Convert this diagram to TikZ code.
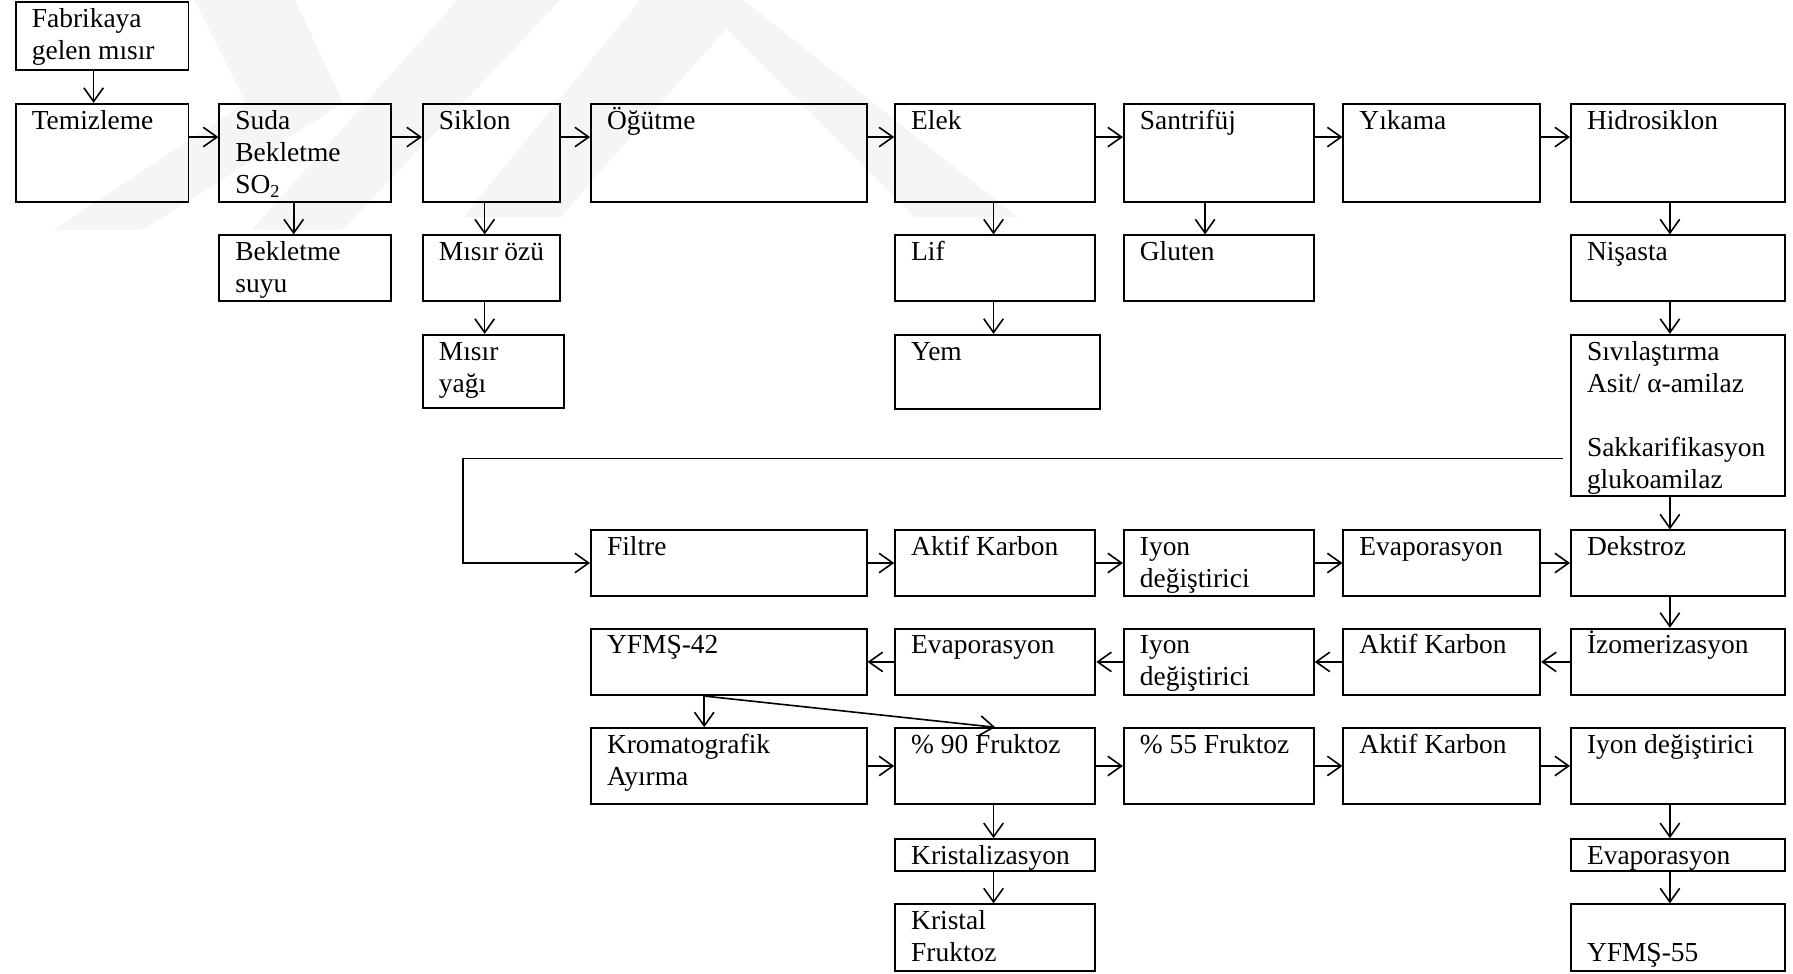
\documentclass[tikz,border=0pt]{standalone}
\usepackage{fontspec}
\setmainfont{Liberation Serif}
\usepackage{tikz}
\usetikzlibrary{arrows.meta}

\begin{document}
\begin{tikzpicture}[
    x=0.5pt,
    y=-0.5pt,
    font=\fontsize{12}{14}\selectfont,
    kutu/.style 2 args={
        draw,
        line width=0.85pt,
        anchor=north west,
        align=flush left,
        inner xsep=7pt,
        inner ysep=0pt,
        text width=#1*0.5pt-14pt,
        minimum width=#1*0.5pt,
        text height=11pt,
        text depth=#2*0.5pt-11pt
    },
    seta/.style={
        -{Straight Barb[length=6pt,width=8.5pt]},
        line width=0.7pt
    },
    filigran/.style={
        fill=black!4,
        draw=none
    }
]

\useasboundingbox (0,0) rectangle (1568,851);

% filigran
\fill[filigran] (170,0) -- (258,0) -- (300,90) -- (125,201) -- (47,201) -- (215,90) -- cycle;
\fill[filigran] (400,0) -- (490,0) -- (300,201) -- (220,201) -- cycle;
\fill[filigran, even odd rule] (405,190) -- (560,0) -- (650,0) -- (890,190) -- cycle
    (490,190) -- (635,25) -- (800,190) -- cycle;

% ust sira
\node[kutu={151}{59}] (fab) at (13,1) {Fabrikaya\\gelen~mısır};
\node[kutu={151}{86}] (temiz) at (13,90) {Temizleme};
\node[kutu={150}{86}] (suda) at (191,90) {Suda\\Bekletme\\SO\textsubscript{2}};
\node[kutu={120}{86}] (siklon) at (369,90) {Siklon};
\node[kutu={241}{86}] (ogut) at (516,90) {Öğütme};
\node[kutu={175}{86}] (elek) at (782,90) {Elek};
\node[kutu={166}{86}] (santri) at (982,90) {Santrifüj};
\node[kutu={172}{86}] (yika) at (1174,90) {Yıkama};
\node[kutu={187}{86}] (hidro) at (1373,90) {Hidrosiklon};

\node[kutu={150}{57}] (bsuyu) at (191,205) {Bekletme\\suyu};
\node[kutu={120}{57}] (ozu) at (369,205) {Mısır~özü};
\node[kutu={175}{57}] (lif) at (782,205) {Lif};
\node[kutu={166}{57}] (gluten) at (982,205) {Gluten};
\node[kutu={187}{57}] (nisasta) at (1373,205) {Nişasta};

\node[kutu={123}{64}] (yagi) at (369,292) {Mısır\\yağı};
\node[kutu={179}{65}] (yem) at (782,292) {Yem};
\node[kutu={187}{141}] (sivi) at (1373,292)
{
    Sıvılaştırma\\
    Asit/~α-amilaz\\[14pt]
    Sakkarifikasyon\\
    glukoamilaz
};

% alt siralar
\node[kutu={241}{57}] (filtre) at (516,463) {Filtre};
\node[kutu={175}{57}] (aktif1) at (782,463) {Aktif~Karbon};
\node[kutu={166}{57}] (iyon1) at (982,463) {Iyon\\değiştirici};
\node[kutu={172}{57}] (evap1) at (1174,463) {Evaporasyon};
\node[kutu={187}{57}] (dekstroz) at (1373,463) {Dekstroz};

\node[kutu={241}{58}] (yfms42) at (516,549) {YFMŞ-42};
\node[kutu={175}{58}] (evap2) at (782,549) {Evaporasyon};
\node[kutu={166}{58}] (iyon2) at (982,549) {Iyon\\değiştirici};
\node[kutu={172}{58}] (aktif2) at (1174,549) {Aktif~Karbon};
\node[kutu={187}{58}] (izo) at (1373,549) {İzomerizasyon};

\node[kutu={241}{66}] (krom) at (516,636) {Kromatografik\\Ayırma};
\node[kutu={175}{66}] (f90) at (782,636) {\%~90~Fruktoz};
\node[kutu={166}{66}] (f55) at (982,636) {\%~55~Fruktoz};
\node[kutu={172}{66}] (aktif3) at (1174,636) {Aktif~Karbon};
\node[kutu={187}{66}] (iyon3) at (1373,636) {Iyon~değiştirici};

\node[kutu={175}{28}] (krist) at (782,733) {Kristalizasyon};
\node[kutu={187}{28}] (evap3) at (1373,733) {Evaporasyon};

\node[kutu={175}{58}] (kfruk) at (782,790) {Kristal\\Fruktoz};
\node[kutu={187}{58}] (yfms55) at (1373,790) {\mbox{}\\YFMŞ-55};

\coordinate (kose) at (405,401);

% oklar
\draw[seta] ([xshift=-3.75pt]fab.south) -- ([xshift=-3.75pt]fab.south |- temiz.north);

\draw[seta] ([yshift=7pt]temiz.east) -- ([yshift=7pt]suda.west);
\draw[seta] ([yshift=7pt]suda.east) -- ([yshift=7pt]siklon.west);
\draw[seta] ([yshift=7pt]siklon.east) -- ([yshift=7pt]ogut.west);
\draw[seta] ([yshift=7pt]ogut.east) -- ([yshift=7pt]elek.west);
\draw[seta] ([yshift=7pt]elek.east) -- ([yshift=7pt]santri.west);
\draw[seta] ([yshift=7pt]santri.east) -- ([yshift=7pt]yika.west);
\draw[seta] ([yshift=7pt]yika.east) -- ([yshift=7pt]hidro.west);

\draw[seta] ([xshift=-5pt]suda.south) -- ([xshift=-5pt]suda.south |- bsuyu.north);
\draw[seta] ([xshift=-3pt]siklon.south) -- ([xshift=-3pt]siklon.south |- ozu.north);
\draw[seta] ([xshift=-3pt]ozu.south) -- ([xshift=-3pt]ozu.south |- yagi.north);
\draw[seta] ([xshift=-0.75pt]elek.south) -- ([xshift=-0.75pt]elek.south |- lif.north);
\draw[seta] ([xshift=-0.75pt]lif.south) -- ([xshift=-0.75pt]lif.south |- yem.north);
\draw[seta] ([xshift=-6pt]santri.south) -- ([xshift=-6pt]santri.south |- gluten.north);
\draw[seta] ([xshift=-3.5pt]hidro.south) -- ([xshift=-3.5pt]hidro.south |- nisasta.north);
\draw[seta] ([xshift=-3.5pt]nisasta.south) -- ([xshift=-3.5pt]nisasta.south |- sivi.north);
\draw[seta] ([xshift=-3.5pt]sivi.south) -- ([xshift=-3.5pt]sivi.south |- dekstroz.north);

\draw[seta] ([xshift=-3pt]sivi.west |- kose) -- (kose) |- (filtre.west);

\draw[seta] (filtre.east) -- (aktif1.west);
\draw[seta] (aktif1.east) -- (iyon1.west);
\draw[seta] (iyon1.east) -- (evap1.west);
\draw[seta] (evap1.east) -- (dekstroz.west);
\draw[seta] ([xshift=-3.5pt]dekstroz.south) -- ([xshift=-3.5pt]dekstroz.south |- izo.north);

\draw[seta] (izo.west) -- (aktif2.east);
\draw[seta] (aktif2.west) -- (iyon2.east);
\draw[seta] (iyon2.west) -- (evap2.east);
\draw[seta] (evap2.west) -- (yfms42.east);

\draw[seta] ([xshift=-10.75pt]yfms42.south) -- ([xshift=-10.75pt]yfms42.south |- krom.north);
\draw[seta] ([xshift=-10.75pt]yfms42.south) -- (f90.north);

\draw[seta] (krom.east) -- (f90.west);
\draw[seta] (f90.east) -- (f55.west);
\draw[seta] (f55.east) -- (aktif3.west);
\draw[seta] (aktif3.east) -- (iyon3.west);

\draw[seta] ([xshift=-0.75pt]f90.south) -- ([xshift=-0.75pt]f90.south |- krist.north);
\draw[seta] ([xshift=-0.75pt]krist.south) -- ([xshift=-0.75pt]krist.south |- kfruk.north);
\draw[seta] ([xshift=-3.5pt]iyon3.south) -- ([xshift=-3.5pt]iyon3.south |- evap3.north);
\draw[seta] ([xshift=-3.5pt]evap3.south) -- ([xshift=-3.5pt]evap3.south |- yfms55.north);

\end{tikzpicture}
\end{document}
